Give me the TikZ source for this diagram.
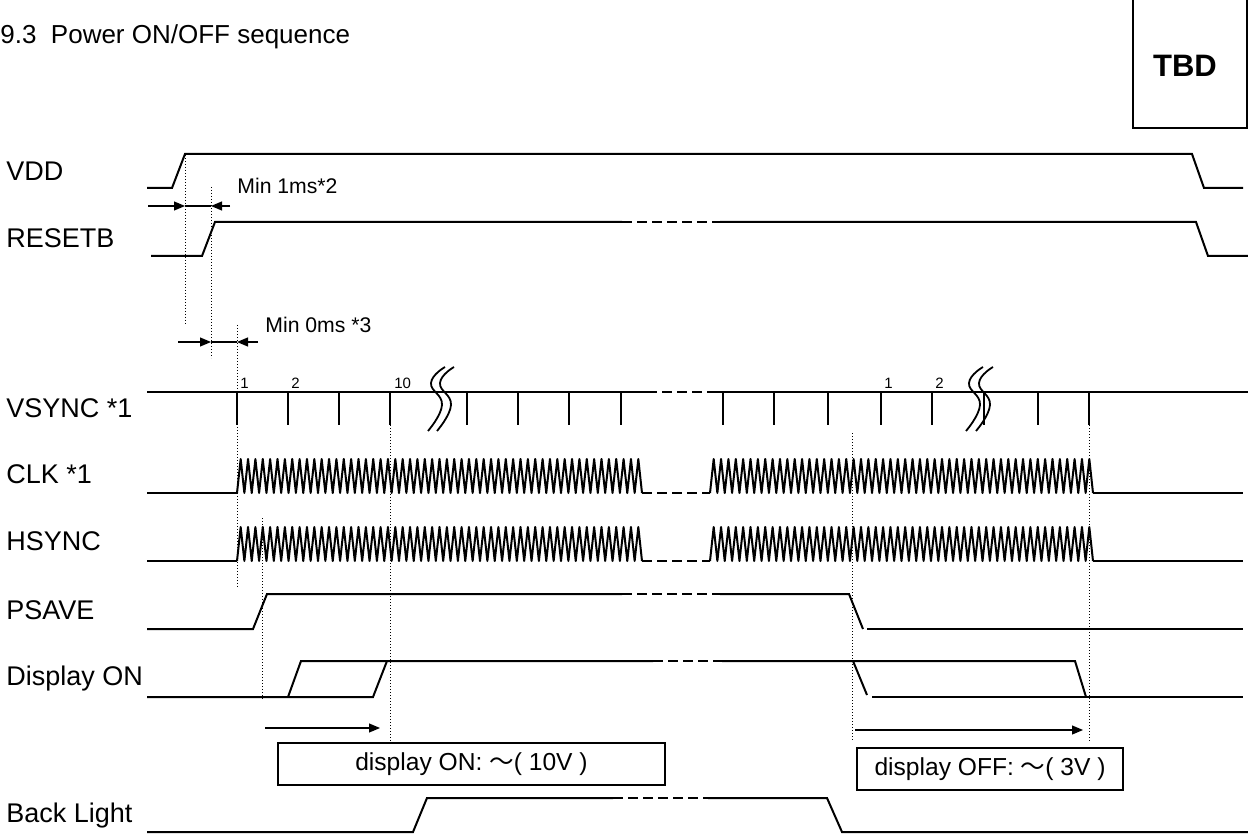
\documentclass[tikz,border=0pt]{standalone}
\usepackage{fontspec}
\setmainfont{Liberation Sans}
\newfontfamily\cjk{Noto Sans CJK JP}
\usetikzlibrary{arrows.meta}
\newcommand\wavy[4]{%
  \pgfmathtruncatemacro\wvn{round((#2-#1)/7.3)}%
  \pgfmathsetmacro\wvp{(#2-#1)/\wvn}%
  \draw[wave] (#1,#3) foreach \wvi in {1,...,\wvn} { -- ({#1+(\wvi-0.5)*\wvp},#4) -- ({#1+\wvi*\wvp},#3) };%
}
\begin{document}
\begin{tikzpicture}[x=0.5pt,y=-0.5pt,
  sig/.style={line width=1pt, line join=miter},
  wave/.style={line width=1pt, line join=round},
  brokenline/.style={line width=1pt, dash pattern=on 5pt off 2.5pt},
  guide/.style={line width=0.45pt, dash pattern=on 0.6pt off 0.9pt},
  lbl/.style={anchor=west, inner sep=0pt, font=\fontsize{13.5}{15}\selectfont},
  note/.style={anchor=west, inner sep=0pt, font=\fontsize{10.6}{12}\selectfont},
  num/.style={anchor=south west, inner sep=1pt, font=\fontsize{7.5}{8}\selectfont},
  meas/.style={line width=0.6pt},
  tip/.style={-{Triangle[length=5.5pt,width=4.5pt]}},
  boxtext/.style={draw, line width=0.8pt, inner sep=0pt, font=\fontsize{12.3}{14}\selectfont},
  brk/.pic={\draw[line width=0.9pt] plot[smooth,tension=0.8] coordinates {(8,-25) (-6,-9) (5,13) (-9,39)};}
]
\useasboundingbox (0,0) rectangle (1248,834);

% title and TBD box
\node[anchor=west, inner sep=0pt, font=\fontsize{13}{15}\selectfont] (title) at (0,37) {9.3\ \ Power ON/OFF sequence};
\draw[line width=0.8pt] (1133,-3) -- (1133,128) -- (1247,128) -- (1247,-3);
\node[font=\bfseries\fontsize{15.5}{18}\selectfont] (tbd) at (1185,66) {TBD};

% labels
\node[lbl] (lvdd) at (6,171) {VDD};
\node[lbl] (lrst) at (6,238) {RESETB};
\node[lbl] (lvs) at (6,408) {VSYNC *1};
\node[lbl] (lclk) at (6,474) {CLK *1};
\node[lbl] (lhs) at (6,541) {HSYNC};
\node[lbl] (lps) at (6,610) {PSAVE};
\node[lbl] (ldisp) at (6,679) {Display ON};
\node[lbl] (lbl) at (6,816) {Back Light};

% guide lines
\draw[guide] (185,155) -- (185,325);
\draw[guide] (211,187) -- (211,358);
\draw[guide] (237,325) -- (237,587);
\draw[guide] (262,518) -- (262,700);
\draw[guide] (390,425) -- (390,742);
\draw[guide] (852,433) -- (852,740);
\draw[guide] (1089,425) -- (1089,742);

% VDD
\draw[sig] (147,188) -- (172,188) -- (185,154) -- (1192,154) -- (1204,188) -- (1243,188);
% RESETB
\draw[sig] (151,256) -- (202,256) -- (215,222) -- (622,222);
\draw[brokenline] (622,222) -- (720,222);
\draw[sig] (720,222) -- (1196,222) -- (1208,256) -- (1248,256);

% Min 1ms
\draw[meas,tip] (148,206) -- (185,206);
\draw[meas] (185,206) -- (211,206);
\draw[meas,tip] (230,206) -- (211,206);
\node[note] (m1) at (237,186) {Min 1ms*2};
% Min 0ms
\draw[meas,tip] (178,342) -- (211,342);
\draw[meas] (211,342) -- (237,342);
\draw[meas,tip] (258,342) -- (237,342);
\node[note] (m0) at (265,325) {Min 0ms *3};

% VSYNC
\draw[sig] (147,392) -- (647,392);
\draw[brokenline] (647,392) -- (713,392);
\draw[sig] (713,392) -- (1248,392);
\foreach \tx in {237,288,339,390,467,518,569,621,723,774,828,881,932,984,1038,1089}
  \draw[sig] (\tx,392) -- (\tx,425);
\node[num] (n1) at (238,391) {1};
\node[num] (n2) at (289,391) {2};
\node[num] (n10) at (392,391) {10};
\node[num] (n1b) at (882,391) {1};
\node[num] (n2b) at (933,391) {2};
\pic at (437,392) {brk};
\pic at (446,392) {brk};
\pic at (975,392) {brk};
\pic at (985,392) {brk};

% CLK
\draw[sig] (147,493) -- (237,493);
\wavy{237}{642}{493}{459}
\draw[brokenline] (642,493) -- (710,493);
\wavy{710}{1093}{493}{459}
\draw[sig] (1093,493) -- (1243,493);
% HSYNC
\draw[sig] (147,561) -- (237,561);
\wavy{237}{642}{561}{527}
\draw[brokenline] (642,561) -- (710,561);
\wavy{710}{1093}{561}{527}
\draw[sig] (1093,561) -- (1243,561);

% PSAVE
\draw[sig] (147,629) -- (253,629) -- (267,594) -- (622,594);
\draw[brokenline] (622,594) -- (720,594);
\draw[sig] (720,594) -- (849,594) -- (863,629);
\draw[sig] (867,629) -- (1243,629);

% Display ON
\draw[sig] (147,697) -- (373,697) -- (387,661);
\draw[sig] (288,697) -- (301,661) -- (653,661);
\draw[brokenline] (653,661) -- (722,661);
\draw[sig] (722,661) -- (1075,661) -- (1086,697);
\draw[sig] (853,661) -- (867,695);
\draw[sig] (872,697) -- (1243,697);

% arrows
\draw[meas,tip] (265,728) -- (380,728);
\draw[meas,tip] (855,730) -- (1083,730);
\node[boxtext, minimum width=193.5pt, minimum height=21pt] (onbox) at (471.5,764) {display ON: {\cjk ～}( 10V )};
\node[boxtext, minimum width=133pt, minimum height=21pt] (offbox) at (990,769) {display OFF: {\cjk ～}( 3V )};

% Back Light
\draw[sig] (147,832) -- (413,832) -- (427,798) -- (613,798);
\draw[brokenline] (613,798) -- (708,798);
\draw[sig] (708,798) -- (827,798) -- (842,832) -- (1248,832);
\end{tikzpicture}
\end{document}
